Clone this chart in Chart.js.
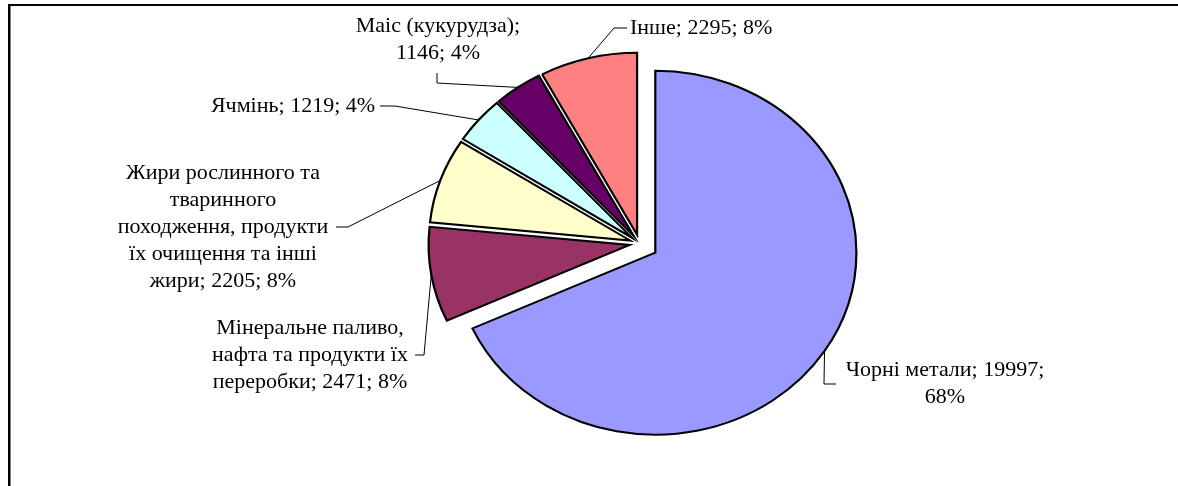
<!DOCTYPE html>
<html>
<head>
<meta charset="utf-8">
<script src="https://cdn.jsdelivr.net/npm/chart.js@4.4.0/dist/chart.umd.min.js"></script>
<style>
  html, body { margin: 0; padding: 0; background: #fff; }
  .chart-container { position: relative; width: 1178px; height: 486px; }
</style>
</head>
<body>
<div class="chart-container"><canvas id="myChart"></canvas></div>
<script>
/******************************************* data **/
const categories = [
  "Чорні метали",
  "Мінеральне паливо, нафта та продукти їх переробки",
  "Жири рослинного та тваринного походження, продукти їх очищення та інші жири",
  "Ячмінь",
  "Маіс (кукурудза)",
  "Інше",
];
const values = [19997, 2471, 2205, 1219, 1146, 2295];
const sliceColors = ["#9999FF", "#993366", "#FFFFCC", "#CCFFFF", "#660066", "#FF8080"];

/******************************************* layout **/
const stretchX = 1.105; // excel pie is a bit wider than tall
const explode = [17, 9, 9, 9, 9, 9]; // px each slice is pulled out
const labelFont = '22px "Liberation Serif", "Times New Roman", serif';
const lineHeight = 27;

// where each data label sits + its leader line (anchor -> elbow -> slice)
const labelLayout = [
  { x: 945, y: 384, wrap: 215, anchor: [836, 384], elbow: [824, 384] },
  { x: 310, y: 355, wrap: 215, anchor: [415, 355], elbow: [424, 355] },
  { x: 223, y: 227, wrap: 215, anchor: [336, 227], elbow: [348, 227] },
  { x: 293, y: 106, wrap: 400, anchor: [380, 106], elbow: [395, 106] },
  { x: 438, y: 40, wrap: 200, anchor: [437, 73], elbow: [437, 83] },
  { x: 700, y: 28, wrap: 400, anchor: [627, 28], elbow: [614, 28] },
];

const total = values.reduce((a, b) => a + b, 0);

// simple greedy word wrap
function wrapText(ctx, text, maxWidth) {
  const words = text.split(" ");
  const lines = [];
  let line = "";
  words.forEach((w) => {
    const test = line ? line + " " + w : w;
    if (line && ctx.measureText(test).width > maxWidth) {
      lines.push(line);
      line = w;
    } else {
      line = test;
    }
  });
  if (line) lines.push(line);
  return lines;
}

// shift of a slice along its mid angle
function sliceShift(arc, i) {
  const mid = (arc.startAngle + arc.endAngle) / 2;
  return [Math.cos(mid) * explode[i], Math.sin(mid) * explode[i]];
}

/******************************************* plugins **/
// frame round the chart (only top and left are visible)
const framePlugin = {
  id: "frame",
  beforeDraw(chart) {
    const ctx = chart.ctx;
    ctx.save();
    ctx.fillStyle = "#fff";
    ctx.fillRect(0, 0, chart.width, chart.height);
    ctx.fillStyle = "#000";
    ctx.fillRect(8, 4, chart.width - 8, 2);
    ctx.fillRect(8, 4, 2.5, chart.height - 4);
    ctx.restore();
  },
};

// draw the slices ourselves: stretched + exploded
const explodePlugin = {
  id: "explode",
  beforeDatasetsDraw(chart) {
    const ctx = chart.ctx;
    const meta = chart.getDatasetMeta(0);
    meta.data.forEach((arc, i) => {
      const [dx, dy] = sliceShift(arc, i);
      ctx.save();
      ctx.translate(arc.x, 0);
      ctx.scale(stretchX, 1);
      ctx.translate(-arc.x, 0);
      ctx.translate(dx, dy);
      arc.draw(ctx, chart.chartArea);
      ctx.restore();
    });
    return false;
  },
};

// data labels with leader lines
const labelPlugin = {
  id: "pieLabels",
  afterDraw(chart) {
    const ctx = chart.ctx;
    const meta = chart.getDatasetMeta(0);
    ctx.save();
    ctx.font = labelFont;
    ctx.fillStyle = "#000";
    ctx.textAlign = "center";
    ctx.textBaseline = "middle";

    meta.data.forEach((arc, i) => {
      const lay = labelLayout[i];
      const pct = Math.round((values[i] / total) * 100);
      const text = categories[i] + "; " + values[i] + "; " + pct + "%";
      const lines = wrapText(ctx, text, lay.wrap);

      // text block centred on lay.y
      const top = lay.y - ((lines.length - 1) * lineHeight) / 2;
      lines.forEach((l, k) => {
        if (i === 5) {
          ctx.textAlign = "left";
          ctx.fillText(l, 630, top + k * lineHeight);
          ctx.textAlign = "center";
        } else {
          ctx.fillText(l, lay.x, top + k * lineHeight);
        }
      });

      // point on the slice edge at mid angle
      const mid = (arc.startAngle + arc.endAngle) / 2;
      const [dx, dy] = sliceShift(arc, i);
      const px = arc.x + (Math.cos(mid) * arc.outerRadius + dx) * stretchX;
      const py = arc.y + Math.sin(mid) * arc.outerRadius + dy;

      ctx.beginPath();
      ctx.strokeStyle = "#000";
      ctx.lineWidth = 1;
      ctx.moveTo(lay.anchor[0], lay.anchor[1]);
      ctx.lineTo(lay.elbow[0], lay.elbow[1]);
      ctx.lineTo(px, py);
      ctx.stroke();
    });
    ctx.restore();
  },
};

/******************************************* chart **/
const ctx = document.getElementById("myChart");

const myChart = new Chart(ctx, {
  type: "pie",
  data: {
    labels: categories,
    datasets: [
      {
        data: values,
        backgroundColor: sliceColors,
        borderColor: "#000",
        borderWidth: 2,
        borderJoinStyle: "miter",
      },
    ],
  },
  options: {
    responsive: true,
    maintainAspectRatio: false,
    animation: false,
    events: [],
    radius: 182,
    layout: {
      padding: { left: 101, right: 0, top: 1, bottom: 0 },
    },
    plugins: {
      legend: { display: false },
      tooltip: { enabled: false },
    },
  },
  plugins: [framePlugin, explodePlugin, labelPlugin],
});
</script>
</body>
</html>
